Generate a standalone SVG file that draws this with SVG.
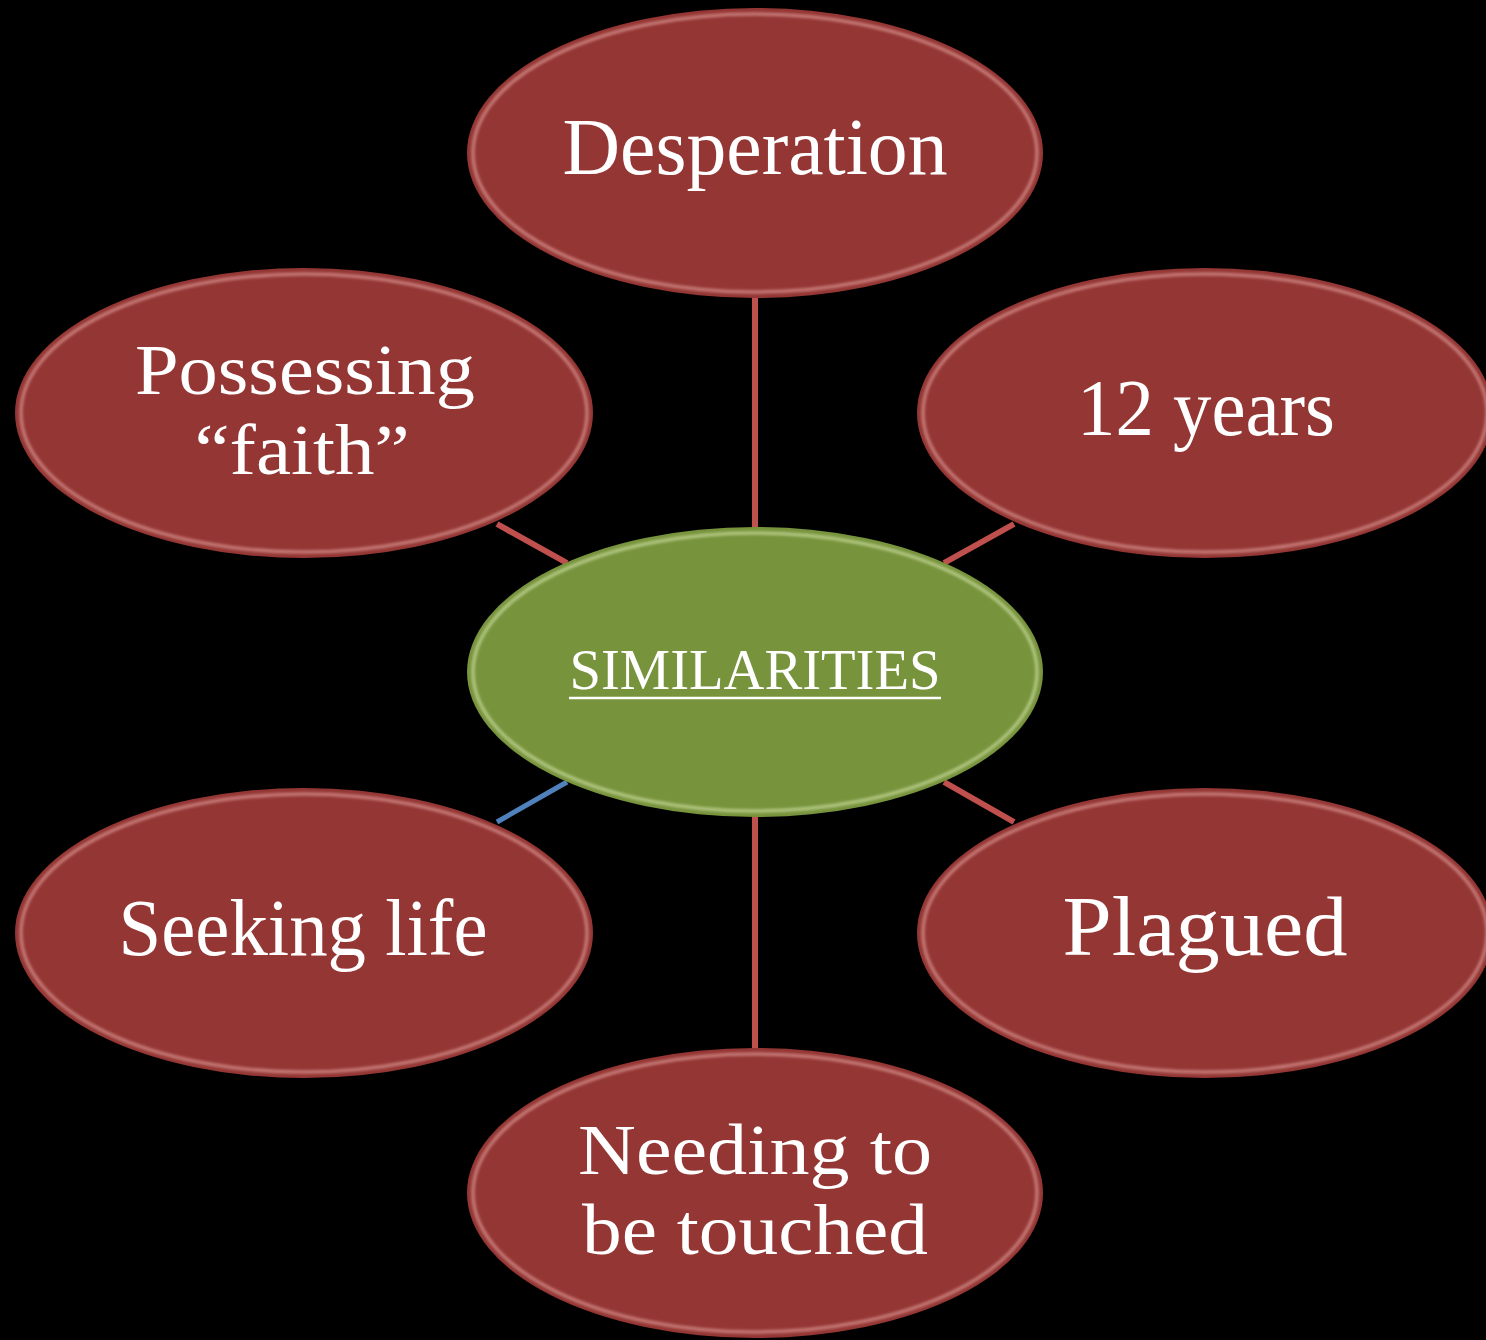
<svg xmlns="http://www.w3.org/2000/svg" width="1486" height="1340" viewBox="0 0 1486 1340">
<defs>
<filter id="soft" x="-10%" y="-10%" width="120%" height="120%"><feGaussianBlur stdDeviation="1.6"/></filter>
<style>
.red{fill:#943634}
.green{fill:#77933C}
.bevR{fill:none;stroke:#f2b8b4;stroke-width:3;opacity:.6}
.bevG{fill:none;stroke:#e6f5c0;stroke-width:3;opacity:.6}
.t{font-family:"Liberation Serif","DejaVu Serif",serif;fill:#fff;text-anchor:middle}
.lr{stroke:#C0504D;stroke-width:6}
.lb{stroke:#4F81BD;stroke-width:5}
</style>
</defs>
<rect width="1486" height="1340" fill="#000"/>
<g id="connectors">
<line class="lr" x1="755" y1="296" x2="755" y2="530"/>
<line class="lr" x1="755" y1="815" x2="755" y2="1050"/>
<line class="lr" x1="497" y1="524" x2="567" y2="563"/>
<line class="lr" x1="1014" y1="524" x2="944" y2="563"/>
<line class="lb" x1="567" y1="782" x2="497" y2="822"/>
<line class="lr" x1="944" y1="782" x2="1014" y2="822"/>
</g>
<g id="desperation">
<ellipse class="red" cx="755" cy="153" rx="288" ry="145"/>
<ellipse class="bevR" cx="755" cy="153" rx="282" ry="139" filter="url(#soft)"/>
<text class="t" x="755" y="174" font-size="80" textLength="385" lengthAdjust="spacingAndGlyphs">Desperation</text>
</g>
<g id="possessing">
<ellipse class="red" cx="304" cy="413" rx="289" ry="145"/>
<ellipse class="bevR" cx="304" cy="413" rx="283" ry="139" filter="url(#soft)"/>
<text class="t" x="305" y="394" font-size="72" textLength="340" lengthAdjust="spacingAndGlyphs">Possessing</text>
<text class="t" x="302" y="474" font-size="72" textLength="215" lengthAdjust="spacingAndGlyphs">“faith”</text>
</g>
<g id="years">
<ellipse class="red" cx="1205" cy="413" rx="288" ry="145"/>
<ellipse class="bevR" cx="1205" cy="413" rx="282" ry="139" filter="url(#soft)"/>
<text class="t" x="1206" y="435" font-size="80" textLength="258" lengthAdjust="spacingAndGlyphs">12 years</text>
</g>
<g id="similarities">
<ellipse class="green" cx="755" cy="672" rx="288" ry="145"/>
<ellipse class="bevG" cx="755" cy="672" rx="282" ry="139" filter="url(#soft)"/>
<text class="t" x="755" y="689" font-size="57" textLength="371" lengthAdjust="spacingAndGlyphs">SIMILARITIES</text>
<line x1="569" y1="698" x2="941" y2="698" stroke="#fff" stroke-width="2.5"/>
</g>
<g id="seeking">
<ellipse class="red" cx="304" cy="933" rx="289" ry="145"/>
<ellipse class="bevR" cx="304" cy="933" rx="283" ry="139" filter="url(#soft)"/>
<text class="t" x="303" y="955" font-size="80" textLength="369" lengthAdjust="spacingAndGlyphs">Seeking life</text>
</g>
<g id="plagued">
<ellipse class="red" cx="1205" cy="933" rx="288" ry="145"/>
<ellipse class="bevR" cx="1205" cy="933" rx="282" ry="139" filter="url(#soft)"/>
<text class="t" x="1205" y="955" font-size="84" textLength="285" lengthAdjust="spacingAndGlyphs">Plagued</text>
</g>
<g id="needing">
<ellipse class="red" cx="755" cy="1193" rx="288" ry="145"/>
<ellipse class="bevR" cx="755" cy="1193" rx="282" ry="139" filter="url(#soft)"/>
<text class="t" x="755" y="1174" font-size="72" textLength="354" lengthAdjust="spacingAndGlyphs">Needing to</text>
<text class="t" x="755" y="1254" font-size="72" textLength="346" lengthAdjust="spacingAndGlyphs">be touched</text>
</g>
</svg>
